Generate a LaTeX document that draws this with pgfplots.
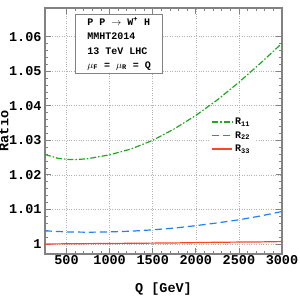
\documentclass[border=0pt]{standalone}
\usepackage{pgfplots}
\pgfplotsset{compat=1.18}
\usepackage{fontspec}
\setmainfont{Liberation Mono}
\definecolor{cgreen}{RGB}{30,170,30}
\definecolor{cblue}{RGB}{30,130,250}
\definecolor{cred}{RGB}{255,70,30}
\definecolor{frame}{RGB}{130,130,130}
\begin{document}
\begin{tikzpicture}
\begin{axis}[
  name=ax,
  scale only axis,
  width=237pt, height=246pt,
  at={(45pt,46pt)}, anchor=south west,
  xmin=250, xmax=3000,
  ymin=0.9971, ymax=1.0683,
  xtick={500,1000,1500,2000,2500,3000},
  ytick={1,1.01,1.02,1.03,1.04,1.05,1.06},
  yticklabels={1,1.01,1.02,1.03,1.04,1.05,1.06},
  minor x tick num=4,
  minor y tick num=4,
  tick align=inside,
  xtick pos=both, ytick pos=both,
  major tick length=6pt, minor tick length=3pt,
  tick style={frame, line width=0.8pt},
  axis line style={frame, line width=1.3pt},
  grid=major,
  major grid style={gray!60, dotted, line width=0.6pt},
  /pgf/number format/assume math mode=true,
  /pgf/number format/1000 sep={},
  ticklabel style={font=\fontsize{13.5}{14}\selectfont\bfseries},
  xticklabel style={yshift=2pt},
  xlabel={Q [GeV]}, ylabel={Ratio},
  label style={font=\fontsize{13.5}{14}\selectfont\bfseries},
  xlabel style={yshift=-11pt},
  ylabel style={inner sep=0pt, yshift=-3pt},
  legend style={draw=white, fill=white, at={(rel axis cs:0.69,0.57)}, anchor=north west,
    row sep=1.5pt},
  legend cell align=left,
  legend image code/.code={%
    \draw[line width=1.5pt,#1] (0pt,0pt) -- (20pt,0pt);},
]
\addplot[cgreen, line width=1.2pt, dash pattern=on 6pt off 2pt on 1.5pt off 2pt] coordinates {
(250,1.0259) (400,1.0248) (500,1.0245) (600,1.0244) (750,1.0247) (1000,1.0258)
(1250,1.0275) (1500,1.0300) (1750,1.0333) (2000,1.0372) (2250,1.0417)
(2500,1.0468) (2750,1.0523) (3000,1.0581)};
\addlegendentry{\fontsize{10}{12}\selectfont\bfseries R\textsubscript{11}}
\addplot[cblue, line width=1.2pt, dash pattern=on 7pt off 4pt] coordinates {
(250,1.0038) (500,1.0035) (750,1.0034) (1000,1.0035) (1250,1.0037) (1500,1.0041)
(1750,1.0046) (2000,1.0053) (2250,1.0061) (2500,1.0070) (2750,1.0081) (3000,1.0094)};
\addlegendentry{\fontsize{10}{12}\selectfont\bfseries R\textsubscript{22}}
\addplot[cred, line width=1.2pt] coordinates {
(250,1.0000) (750,1.0001) (1250,1.0002) (1750,1.0003) (2250,1.0005) (2750,1.0006) (3000,1.0007)};
\addlegendentry{\fontsize{10}{12}\selectfont\bfseries R\textsubscript{33}}
\node[draw=frame, line width=0.9pt, fill=white, anchor=north west, align=left,
  inner sep=3pt, minimum width=87pt, minimum height=57pt,
  font=\fontsize{10}{14.3}\selectfont\bfseries]
  at (rel axis cs:0.127,0.974)
  {P P $\rightarrow$ W\textsuperscript{+} H\\ MMHT2014\\ 13 TeV LHC\\ $\mu$\textsubscript{F} = $\mu$\textsubscript{R} = Q};
\end{axis}
\pgfresetboundingbox
\path[use as bounding box] (0pt,0pt) rectangle (300pt,300pt);
\end{tikzpicture}
\end{document}
